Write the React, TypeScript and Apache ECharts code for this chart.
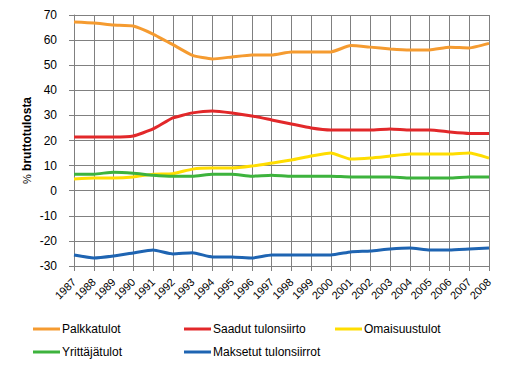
import React, { useEffect, useRef } from "react";
import * as echarts from "echarts";

const years = ["1987","1988","1989","1990","1991","1992","1993","1994","1995","1996","1997","1998","1999","2000","2001","2002","2003","2004","2005","2006","2007","2008"];
const palkkatulot = [67.2,66.8,66.0,65.6,62.4,58.2,53.9,52.5,53.3,54.1,54.1,55.3,55.3,55.3,57.8,57.2,56.5,56.1,56.1,57.2,56.9,58.7];
const saadut = [21.4,21.4,21.4,21.8,24.6,29.0,31.0,31.8,31.0,29.8,28.2,26.6,25.0,24.2,24.2,24.2,24.6,24.2,24.2,23.4,22.8,22.8];
const omaisuus = [4.7,5.1,5.1,5.5,6.6,6.8,8.6,9.0,9.0,9.8,11.0,12.2,13.8,15.0,12.6,13.0,13.8,14.6,14.6,14.6,15.0,13.0];
const yrittaja = [6.6,6.6,7.4,7.0,6.2,5.8,5.8,6.6,6.6,5.8,6.2,5.8,5.8,5.8,5.5,5.5,5.5,5.1,5.1,5.1,5.5,5.5];
const maksetut = [-25.6,-26.8,-26.0,-24.8,-23.6,-25.2,-24.7,-26.4,-26.4,-26.8,-25.6,-25.6,-25.6,-25.6,-24.4,-24.0,-23.2,-22.8,-23.6,-23.6,-23.2,-22.8];
const seriesNames = ["Palkkatulot","Saadut tulonsiirto","Omaisuustulot","Yrittäjätulot","Maksetut tulonsiirrot"];
const colors = ["#F59B30","#E2282A","#FFDD00","#3DB33D","#1E64B2"];
const yAxisUnit = "%";
const yAxisWord = "bruttotulosta";

export default function App() {
  const ref = useRef<HTMLDivElement>(null);
  useEffect(() => {
    if (!ref.current) return;
    const chart = echarts.init(ref.current, null, { renderer: "svg" });
    const data = [palkkatulot, saadut, omaisuus, yrittaja, maksetut];
    const legendPos = [
      { left: 33, top: 323 },
      { left: 184, top: 323 },
      { left: 335, top: 323 },
      { left: 33, top: 346 },
      { left: 184, top: 346 },
    ];
    const font = "Liberation Sans, Arial, sans-serif";
    chart.setOption({
      animation: false,
      backgroundColor: "#fff",
      textStyle: { fontFamily: font },
      grid: { left: 74, right: 24, top: 15, bottom: 104 },
      legend: seriesNames.map((n, i) => ({
        data: [n],
        left: legendPos[i].left,
        top: legendPos[i].top,
        icon: "rect",
        itemWidth: 27,
        itemHeight: 3,
        itemGap: 0,
        padding: 0,
        textStyle: { fontSize: 12, color: "#000", fontFamily: font, padding: [0, 0, 0, -3] },
      })),
      xAxis: {
        type: "category",
        data: years,
        boundaryGap: false,
        axisLine: { show: true, onZero: false, lineStyle: { color: "#808080", width: 1 } },
        axisTick: { show: true, inside: false, length: 5, alignWithLabel: true, lineStyle: { color: "#808080" } },
        splitLine: { show: true, lineStyle: { color: "#808080", width: 1 } },
        axisLabel: { rotate: 45, fontSize: 11, color: "#000", margin: 14, interval: 0, fontFamily: font },
      },
      yAxis: {
        type: "value",
        min: -30,
        max: 70,
        interval: 10,
        name: "{a|" + yAxisUnit + "} {b|" + yAxisWord + "}",
        nameLocation: "middle",
        nameGap: 41,
        nameMoveOverlap: false,
        nameRotate: 90,
        nameTextStyle: {
          color: "#000",
          fontSize: 12,
          fontFamily: font,
          rich: {
            a: { fontSize: 11, fontWeight: "normal", color: "#000", fontFamily: font },
            b: { fontSize: 12, fontWeight: "bold", color: "#000", fontFamily: font },
          },
        },
        axisLine: { show: true, lineStyle: { color: "#808080", width: 1 } },
        axisTick: { show: true, length: 5, lineStyle: { color: "#808080" } },
        splitLine: { show: true, lineStyle: { color: "#808080", width: 1 } },
        axisLabel: { fontSize: 12, color: "#000", margin: 17, fontFamily: font },
      },
      series: seriesNames.map((n, i) => ({
        name: n,
        type: "line",
        data: data[i],
        symbol: "none",
        smooth: 0.15,
        color: colors[i],
        lineStyle: { width: 3, color: colors[i] },
      })),
    });
    return () => chart.dispose();
  }, []);
  return <div ref={ref} style={{ width: 513, height: 370, position: "absolute", left: 0, top: 0 }} />;
}
